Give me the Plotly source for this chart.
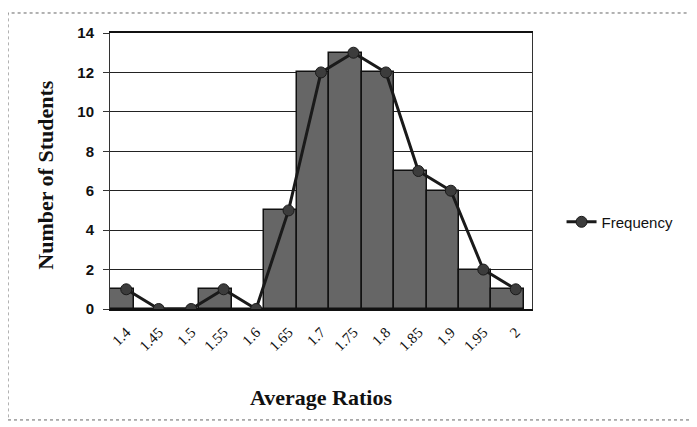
import plotly.graph_objects as go

categories = ["1.4", "1.45", "1.5", "1.55", "1.6", "1.65", "1.7", "1.75", "1.8", "1.85", "1.9", "1.95", "2"]
counts = [1, 0, 0, 1, 0, 5, 12, 13, 12, 7, 6, 2, 1]
frequency = [1, 0, 0, 1, 0, 5, 12, 13, 12, 7, 6, 2, 1]
y_ticks = [0, 2, 4, 6, 8, 10, 12, 14]

pos = list(range(len(categories)))

fig = go.Figure()
fig.add_trace(go.Bar(
    x=pos, y=counts, width=1.0, offset=-0.75,
    marker=dict(color="#666666", line=dict(color="#111111", width=1.5)),
    showlegend=False, hoverinfo="skip",
))
fig.add_trace(go.Scatter(
    x=pos, y=frequency, mode="lines+markers", name="Frequency",
    line=dict(color="#1a1a1a", width=3),
    marker=dict(symbol="circle", size=11, color="#3c3c3c", line=dict(color="#1a1a1a", width=1)),
))

fig.update_layout(
    width=689, height=419,
    margin=dict(l=102, r=165, t=25, b=118),
    paper_bgcolor="white", plot_bgcolor="white",
    bargap=0,
    showlegend=True,
    legend=dict(x=1.07, y=0.315, xanchor="left", yanchor="middle",
                font=dict(family="Liberation Sans", size=15, color="#111")),
    xaxis=dict(
        range=[-0.5, 12.5], tickmode="array", tickvals=pos, ticktext=categories,
        tickangle=-45, tickfont=dict(family="Liberation Serif", size=15, color="#111"),
        showgrid=False, showline=True, linecolor="#111", linewidth=1.5, mirror=True,
        ticks="", zeroline=False, ticklabelstandoff=7,
    ),
    yaxis=dict(
        range=[0, 14], tickmode="array", tickvals=y_ticks,
        tickfont=dict(family="Liberation Sans", size=15, color="#111", weight="bold"),
        showgrid=True, gridcolor="#222", gridwidth=1,
        showline=True, linecolor="#333", linewidth=1, mirror=True,
        ticks="outside", ticklen=6, tickcolor="#333", ticklabelstandoff=6,
        zeroline=False,
    ),
    annotations=[
        dict(text="Number of Students", x=-0.152, y=0.486, xref="paper", yref="paper",
             xanchor="center", yanchor="middle",
             textangle=-90, showarrow=False,
             font=dict(family="Liberation Serif", size=22, color="#111", weight="bold")),
        dict(text="Average Ratios", x=0.5, y=-0.319, xref="paper", yref="paper",
             xanchor="center", yanchor="middle",
             showarrow=False,
             font=dict(family="Liberation Serif", size=22, color="#111", weight="bold")),
    ],
    shapes=[
        dict(type="rect", xref="paper", yref="paper", x0=-0.2417, x1=1.374, y0=-0.402, y1=1.0725,
             line=dict(color="#666", width=1, dash="dot"), fillcolor="rgba(0,0,0,0)", layer="below"),
    ],
)

fig.write_html("out.html")
